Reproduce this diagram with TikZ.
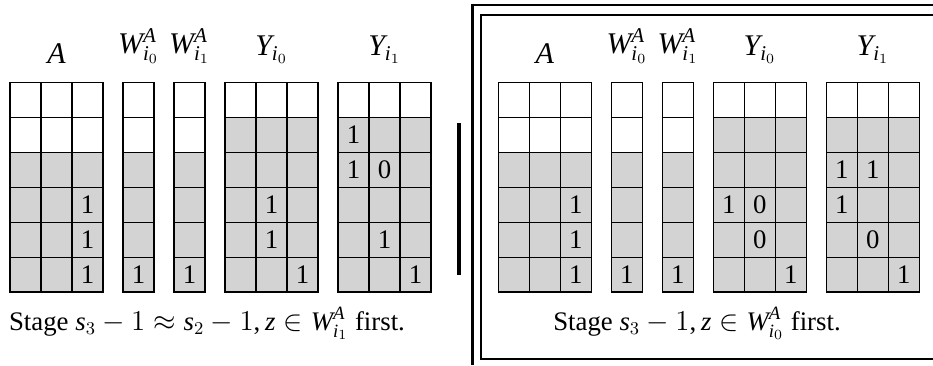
\documentclass[tikz,border=0pt]{standalone}
\usepackage{fontspec}
\setmainfont{Liberation Serif}
\edef\myrm{\rmdefault}
\DeclareSymbolFont{letters}{TU}{\myrm}{m}{it}
\DeclareSymbolFont{operators}{TU}{\myrm}{m}{n}
\mathcode`\,="602C
\usetikzlibrary{positioning,calc}

\definecolor{cellgray}{RGB}{211,211,211}

\tikzset{
  cell/.style={draw=black, line width=0.6pt},
  entry/.style={inner sep=0pt, font=\fontsize{13.4}{16}\selectfont},
  colhead/.style={anchor=south, inner sep=0pt, font=\fontsize{15}{18}\selectfont},
  stagecap/.style={anchor=base, font=\fontsize{13.4}{16}\selectfont},
  frameline/.style={line width=1.25pt},
}

% block of 6 rows: left edge, number of columns, first gray row
\newcommand{\cellblock}[3]{%
  \foreach \r in {1,...,6}{
    \foreach \c in {1,...,#2}{
      \ifnum\r<#3 \def\fillc{white}\else\def\fillc{cellgray}\fi
      \filldraw[cell, fill=\fillc] ({#1+(\c-1)*\cw},{\gtop+(\r-1)*\ch}) rectangle ++(\cw,\ch);
    }
  }
}

% entries col/row/value of one block: name, left edge, list
\newcommand{\putentries}[3]{%
  \foreach \c/\r/\v in {#3}
    \node[entry] (#1-\r-\c) at ({#2+(\c-0.5)*\cw},{\gtop+(\r-0.5)*\ch}) {\v};
}

\begin{document}
\begin{tikzpicture}[x=0.5pt, y=-0.5pt]
  % Define dimensions
  \def\cw{31}
  \def\ch{34.88}
  \def\gtop{82.7}
  \def\shiftR{488.4}

  \useasboundingbox (0,0) rectangle (933,365);

  % Draw both panels
  \foreach \p/\dx in {l/0, r/\shiftR}{
    \cellblock{\dx+10}{3}{3}
    \cellblock{\dx+123}{1}{3}
    \cellblock{\dx+174}{1}{3}
    \cellblock{\dx+225}{3}{2}
    \cellblock{\dx+338}{3}{2}

    % Label columns
    \node[colhead] (\p-A) at (\dx+56.5,64) {$A$};
    \node[colhead] (\p-W0) at (\dx+138.5,64) {$W^A_{i_0}$};
    \node[colhead] (\p-W1) at (\dx+189.5,64) {$W^A_{i_1}$};
    \node[colhead] (\p-Y0) at (\dx+271.5,64) {$Y_{i_0}$};
    \node[colhead] (\p-Y1) at (\dx+384.5,64) {$Y_{i_1}$};

    % Entries common to both
    \putentries{\p-A}{\dx+10}{3/4/1, 3/5/1, 3/6/1}
    \putentries{\p-W0}{\dx+123}{1/6/1}
    \putentries{\p-W1}{\dx+174}{1/6/1}
  }

  % Left panel entries
  \putentries{l-Y0}{225}{2/4/1, 2/5/1, 3/6/1}
  \putentries{l-Y1}{338}{1/2/1, 1/3/1, 2/3/0, 2/5/1, 3/6/1}

  % Right panel entries
  \putentries{r-Y0}{\shiftR+225}{1/4/1, 2/4/0, 2/5/0, 3/6/1}
  \putentries{r-Y1}{\shiftR+338}{1/3/1, 2/3/1, 1/4/1, 2/5/0, 3/6/1}

  % Captions
  \node[stagecap] (l-stage) at (207,330) {Stage $s_3-1\approx s_2-1, z\in W^A_{i_1}$ first.};
  \node[stagecap] (r-stage) at (697,330) {Stage $s_3-1, z\in W^A_{i_0}$ first.};

  % Separator and frames
  \draw[line width=2pt] (459,123) -- (459,275);
  \draw[frameline] (472.5,365) -- (472.5,5) -- (933,5);
  \draw[frameline] (933,15) -- (481,15) -- (481,359) -- (933,359);
\end{tikzpicture}
\end{document}
